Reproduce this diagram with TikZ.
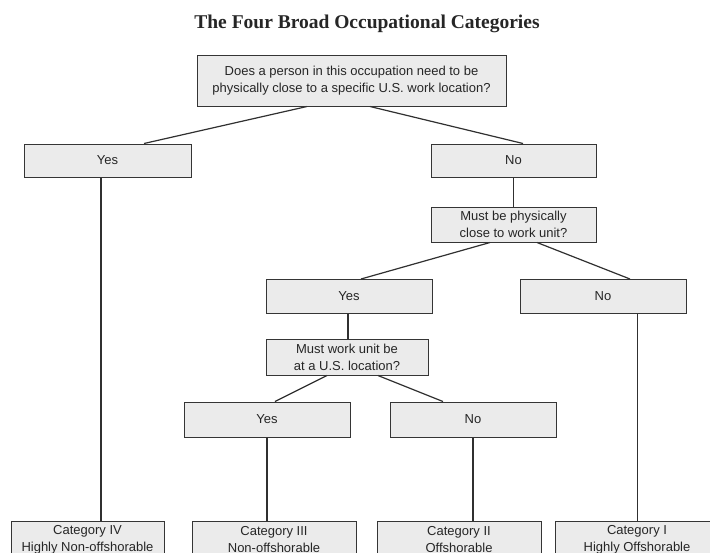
\documentclass[tikz,border=0pt]{standalone}
\usepackage{fontspec}
\setmainfont{Liberation Sans}
\newfontfamily\titlefont{Liberation Serif}
\definecolor{boxfill}{HTML}{EBEBEB}
\definecolor{boxline}{HTML}{353535}
\definecolor{conn}{HTML}{303030}
\begin{document}
\begin{tikzpicture}[x=1pt,y=-1pt,
  box/.style={draw=boxline, line width=1pt, fill=boxfill, rectangle, inner sep=0pt,
    align=center, font=\fontsize{13}{17}\selectfont, text=black!85},
  cat/.style={box, minimum width=164pt, minimum height=38pt, anchor=north},
  link/.style={draw=conn, line width=1.2pt}]
\useasboundingbox (0,0) rectangle (710,552);
\clip (0,0) rectangle (710,552);
\fill[white] (0,0) rectangle (710,552);

\node[anchor=base, font=\titlefont\bfseries\fontsize{19.5}{22}\selectfont, text=black!85] (title) at (367,28) {The Four Broad Occupational Categories};

\node[box, minimum width=309pt, minimum height=51pt] (q1) at (351.5,80.5) {Does a person in this occupation need to be\\physically close to a specific U.S. work location?};

\node[box, minimum width=167pt, minimum height=33pt] (y1) at (107.5,160.5) {Yes};
\node[box, minimum width=165pt, minimum height=33pt] (n1) at (513.5,160.5) {No};

\node[box, minimum width=165pt, minimum height=35pt] (q2) at (513.5,224.5) {Must be physically\\close to work unit?};

\node[box, minimum width=166pt, minimum height=34pt] (y2) at (349,296.5) {Yes};
\node[box, minimum width=166pt, minimum height=34pt] (n2) at (603,296.5) {No};

\node[box, minimum width=162pt, minimum height=36pt] (q3) at (347,357) {Must work unit be\\at a U.S. location?};

\node[box, minimum width=166pt, minimum height=35pt] (y3) at (267,419.5) {Yes};
\node[box, minimum width=166pt, minimum height=35pt] (n3) at (473,419.5) {No};

\node[cat, minimum width=153pt, minimum height=36pt] (c4) at (87.5,521) {Category IV\\Highly Non-offshorable};
\node[cat, minimum height=36pt] (c3) at (274,521) {Category III\\Non-offshorable};
\node[cat, minimum height=36pt] (c2) at (459,521) {Category II\\Offshorable};
\node[cat, minimum height=36pt] (c1) at (637,521) {Category I\\Highly Offshorable};

\draw[link] ([xshift=-44.5]q1.south) -- ([xshift=36.5]y1.north);
\draw[link] ([xshift=18.5]q1.south) -- ([xshift=9.5]n1.north);
\draw[link] (n1.south) -- (q2.north);
\draw[link] ([xshift=-23.5]q2.south) -- ([xshift=12]y2.north);
\draw[link] ([xshift=23.5]q2.south) -- ([xshift=27]n2.north);
\draw[link] ([xshift=-1]y2.south) -- ([xshift=1]q3.north);
\draw[link] ([xshift=-20]q3.south) -- ([xshift=8]y3.north);
\draw[link] ([xshift=31]q3.south) -- ([xshift=-30]n3.north);
\draw[link] ([xshift=-6.5]y1.south) -- ([xshift=13.5]c4.north);
\draw[link] ([xshift=34.5]n2.south) -- ([xshift=0.5]c1.north);
\draw[link] (y3.south) -- ([xshift=-7]c3.north);
\draw[link] (n3.south) -- ([xshift=14]c2.north);
\end{tikzpicture}
\end{document}
